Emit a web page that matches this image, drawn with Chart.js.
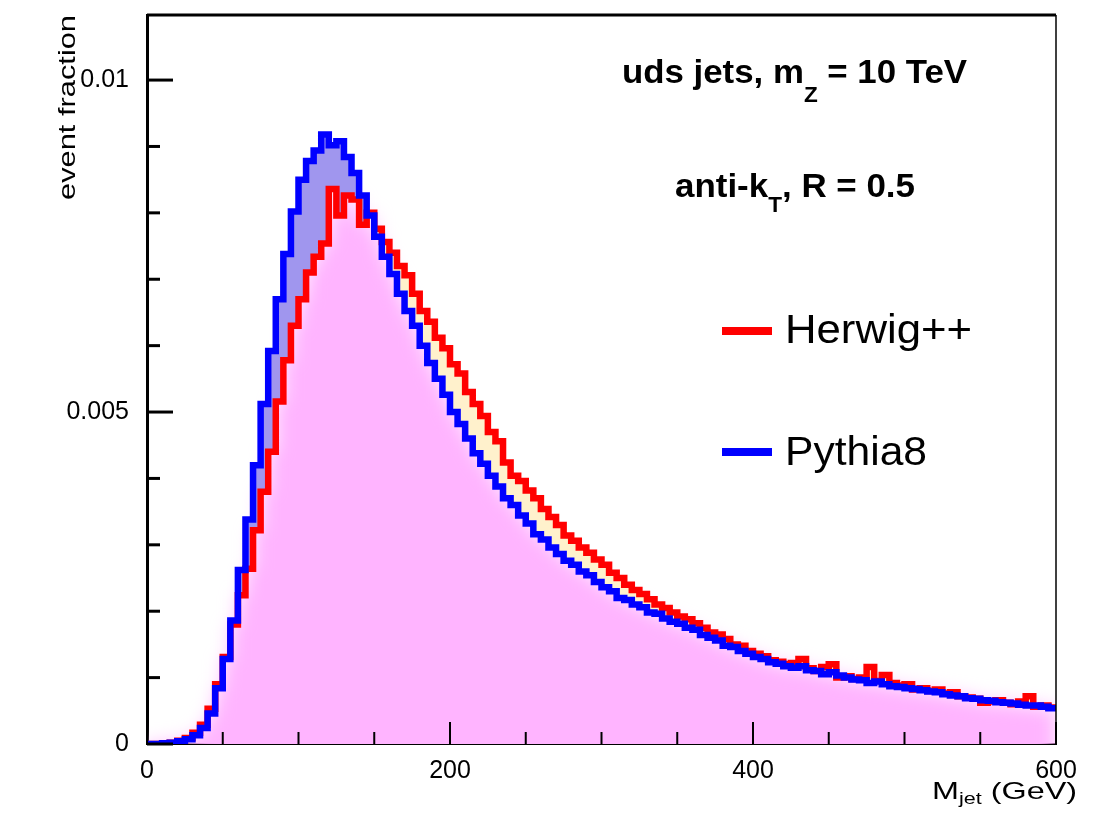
<!DOCTYPE html>
<html>
<head>
<script src="https://cdn.jsdelivr.net/npm/chart.js"></script>
<style>
    body { margin: 0; background: #ffffff; overflow: hidden; }
    .chart-container { width: 1097px; height: 826px; position: relative; }
</style>
</head>
<body>
<div class="chart-container"><canvas id="massChart"></canvas></div>
<script>
// jet mass spectra, 5 GeV bins from 0 to 600 GeV, event fraction per bin
const binWidth = 5;
const binEdges = Array.from({ length: 121 }, (_, i) => i * binWidth);

const herwig = [
    0.00000, 0.00000, 0.00001, 0.00002, 0.00005, 0.00009, 0.00017, 0.00029, 0.00053, 0.00090,
    0.00131, 0.00180, 0.00224, 0.00264, 0.00322, 0.00380, 0.00440, 0.00516, 0.00578, 0.00630,
    0.00670, 0.00710, 0.00734, 0.00754, 0.00836, 0.00796, 0.00826, 0.00820, 0.00782, 0.00800,
    0.00776, 0.00756, 0.00740, 0.00720, 0.00706, 0.00678, 0.00652, 0.00636, 0.00612, 0.00596,
    0.00572, 0.00558, 0.00530, 0.00512, 0.00494, 0.00470, 0.00456, 0.00424, 0.00404, 0.00396,
    0.00382, 0.00370, 0.00354, 0.00342, 0.00330, 0.00314, 0.00306, 0.00296, 0.00288, 0.00278,
    0.00270, 0.00258, 0.00250, 0.00240, 0.00232, 0.00226, 0.00218, 0.00210, 0.00205, 0.00198,
    0.00192, 0.00188, 0.00182, 0.00175, 0.00168, 0.00165, 0.00158, 0.00150, 0.00148, 0.00140,
    0.00136, 0.00132, 0.00126, 0.00124, 0.00120, 0.00122, 0.00128, 0.00114, 0.00110, 0.00116,
    0.00120, 0.00100, 0.00102, 0.00098, 0.00100, 0.00116, 0.00095, 0.00104, 0.00092, 0.00088,
    0.00090, 0.00082, 0.00084, 0.00080, 0.00082, 0.00076, 0.00078, 0.00072, 0.00070, 0.00068,
    0.00062, 0.00064, 0.00066, 0.00062, 0.00060, 0.00064, 0.00072, 0.00056, 0.00058, 0.00055
];

const pythia = [
    0.00000, 0.00000, 0.00001, 0.00002, 0.00004, 0.00007, 0.00013, 0.00024, 0.00046, 0.00084,
    0.00128, 0.00186, 0.00262, 0.00338, 0.00420, 0.00512, 0.00592, 0.00670, 0.00738, 0.00802,
    0.00850, 0.00878, 0.00894, 0.00918, 0.00902, 0.00908, 0.00884, 0.00860, 0.00826, 0.00796,
    0.00764, 0.00734, 0.00708, 0.00678, 0.00652, 0.00630, 0.00600, 0.00574, 0.00550, 0.00526,
    0.00500, 0.00482, 0.00460, 0.00438, 0.00422, 0.00404, 0.00388, 0.00370, 0.00360, 0.00344,
    0.00332, 0.00316, 0.00308, 0.00296, 0.00286, 0.00276, 0.00270, 0.00260, 0.00254, 0.00244,
    0.00236, 0.00230, 0.00220, 0.00217, 0.00210, 0.00206, 0.00198, 0.00196, 0.00189, 0.00184,
    0.00181, 0.00175, 0.00172, 0.00164, 0.00160, 0.00156, 0.00148, 0.00146, 0.00140, 0.00136,
    0.00131, 0.00128, 0.00123, 0.00121, 0.00117, 0.00115, 0.00117, 0.00111, 0.00110, 0.00105,
    0.00108, 0.00103, 0.00100, 0.00097, 0.00096, 0.00092, 0.00094, 0.00090, 0.00087, 0.00086,
    0.00084, 0.00083, 0.00081, 0.00079, 0.00078, 0.00075, 0.00073, 0.00072, 0.00069, 0.00068,
    0.00066, 0.00065, 0.00063, 0.00062, 0.00061, 0.00059, 0.00058, 0.00058, 0.00056, 0.00054
];

const xLabelValues = [0, 200, 400, 600];
const xTickLabels = ['0', '200', '400', '600'];
const yLabelValues = [0, 0.005, 0.01];
const yTickLabels = ['0', '0.005', '0.01'];

// histogram points: each left edge carries its bin content, last edge repeats the last bin
function toSteps(series) {
    return binEdges.map((x, i) => ({ x: x, y: series[Math.min(i, series.length - 1)] }));
}
const lowerEnvelope = herwig.map((v, i) => Math.min(v, pythia[i]));

const FONT = '"Liberation Sans", Arial, sans-serif';

// draws a row of text pieces (for subscripts), squeezed/stretched to a given width
function drawRuns(ctx, runs, x, baseline, width) {
    let total = 0;
    runs.forEach(r => { ctx.font = r.font; r.w = ctx.measureText(r.text).width; total += r.w; });
    const sx = width ? width / total : 1;
    ctx.save();
    ctx.translate(x, baseline);
    ctx.scale(sx, 1);
    ctx.textAlign = 'left';
    ctx.textBaseline = 'alphabetic';
    ctx.fillStyle = '#000';
    let cx = 0;
    runs.forEach(r => { ctx.font = r.font; ctx.fillText(r.text, cx, r.dy || 0); cx += r.w; });
    ctx.restore();
}

const framePlugin = {
    id: 'framePlugin',
    // soft edge on the pink area
    beforeDatasetsDraw(chart) {
        chart.ctx.save();
        chart.ctx.filter = 'blur(9px)';
    },
    afterDatasetDraw(chart, args) {
        if (args.index === 2) chart.ctx.restore();
    },
    afterDraw(chart) {
        const ctx = chart.ctx;
        const a = chart.chartArea;
        const xs = chart.scales.x, ys = chart.scales.y;
        ctx.save();
        ctx.strokeStyle = '#000';
        ctx.lineCap = 'butt';

        // top and right frame
        ctx.lineWidth = 3;
        ctx.beginPath(); ctx.moveTo(a.left, a.top); ctx.lineTo(a.right, a.top); ctx.stroke();
        ctx.lineWidth = 1.5;
        ctx.beginPath(); ctx.moveTo(a.right, a.top); ctx.lineTo(a.right, a.bottom); ctx.stroke();

        // inward tick marks
        ctx.lineWidth = 3;
        ys.ticks.forEach(t => {
            const n = Math.round(t.value * 1000);
            if (Math.abs(t.value * 1000 - n) > 1e-6) return;
            const py = ys.getPixelForValue(t.value);
            const len = n % 5 === 0 ? 26 : 13;
            ctx.beginPath(); ctx.moveTo(a.left, py); ctx.lineTo(a.left + len, py); ctx.stroke();
        });
        ctx.lineWidth = 2;
        xs.ticks.forEach(t => {
            const px = xs.getPixelForValue(t.value);
            const len = t.value % 200 === 0 ? 22 : 12;
            ctx.beginPath(); ctx.moveTo(px, a.bottom); ctx.lineTo(px, a.bottom - len); ctx.stroke();
        });
        ctx.restore();

        // axis titles
        ctx.save();
        ctx.translate(75, 200);
        ctx.rotate(-Math.PI / 2);
        drawRuns(ctx, [{ text: 'event fraction', font: '24px ' + FONT }], 0, 0, 185);
        ctx.restore();

        drawRuns(ctx, [
            { text: 'M', font: '24px ' + FONT },
            { text: 'jet', font: '16px ' + FONT, dy: 5 },
            { text: ' (GeV)', font: '24px ' + FONT }
        ], 932, 799, 145);

        // process / algorithm text
        drawRuns(ctx, [
            { text: 'uds jets, m', font: 'bold 34px ' + FONT },
            { text: 'Z', font: 'bold 22px ' + FONT, dy: 19 },
            { text: ' = 10 TeV', font: 'bold 34px ' + FONT }
        ], 622, 83, 345);
        drawRuns(ctx, [
            { text: 'anti-k', font: 'bold 34px ' + FONT },
            { text: 'T', font: 'bold 22px ' + FONT, dy: 15 },
            { text: ', R = 0.5', font: 'bold 34px ' + FONT }
        ], 675, 197, 240);

        // legend
        ctx.save();
        ctx.lineWidth = 8;
        ctx.strokeStyle = '#ff0000';
        ctx.beginPath(); ctx.moveTo(722, 331); ctx.lineTo(772, 331); ctx.stroke();
        ctx.strokeStyle = '#0000ff';
        ctx.beginPath(); ctx.moveTo(722, 452); ctx.lineTo(772, 452); ctx.stroke();
        ctx.restore();
        drawRuns(ctx, [{ text: 'Herwig++', font: '40px ' + FONT }], 785, 343, 187);
        drawRuns(ctx, [{ text: 'Pythia8', font: '40px ' + FONT }], 785, 465, 142);
    }
};

const ctx = document.getElementById('massChart').getContext('2d');
new Chart(ctx, {
    type: 'line',
    data: {
        datasets: [
            {
                label: 'Pythia8',
                data: toSteps(pythia),
                borderColor: '#0000ff',
                borderWidth: 6.5,
                stepped: true,
                pointRadius: 0,
                fill: false,
                order: 1
            },
            {
                label: 'Herwig++',
                data: toSteps(herwig),
                borderColor: '#ff0000',
                borderWidth: 6.5,
                stepped: true,
                pointRadius: 0,
                fill: { target: '-1', above: '#fff1cc', below: '#a096ee' },
                order: 2
            },
            {
                label: 'envelope',
                data: toSteps(lowerEnvelope),
                borderWidth: 0,
                borderColor: 'rgba(0,0,0,0)',
                backgroundColor: '#ffb4ff',
                stepped: true,
                pointRadius: 0,
                fill: { value: -0.001 },
                order: 3
            }
        ]
    },
    options: {
        responsive: true,
        maintainAspectRatio: false,
        animation: false,
        layout: { padding: { left: 0, top: 15, right: 41, bottom: 0 } },
        plugins: {
            legend: { display: false },
            tooltip: { enabled: false },
            filler: { drawTime: 'beforeDatasetDraw' }
        },
        scales: {
            x: {
                type: 'linear',
                min: 0,
                max: 600,
                afterFit: s => { s.height = 82; s.paddingLeft = 0; s.paddingRight = 0; },
                grid: { display: false, drawTicks: false },
                border: { display: true, color: '#000', width: 2 },
                ticks: {
                    stepSize: 50,
                    autoSkip: false,
                    maxRotation: 0,
                    padding: 12,
                    color: '#000',
                    font: { family: FONT, size: 25 },
                    callback: v => {
                        const k = xLabelValues.indexOf(v);
                        return k >= 0 ? xTickLabels[k] : '';
                    }
                }
            },
            y: {
                min: 0,
                max: 0.01098,
                afterFit: s => { s.width = 147; s.paddingTop = 0; s.paddingBottom = 0; },
                grid: { display: false, drawTicks: false },
                border: { display: true, color: '#000', width: 3 },
                ticks: {
                    stepSize: 0.001,
                    autoSkip: false,
                    padding: 18,
                    color: '#000',
                    font: { family: FONT, size: 25 },
                    callback: v => {
                        const k = yLabelValues.findIndex(w => Math.abs(w - v) < 1e-7);
                        return k >= 0 ? yTickLabels[k] : '';
                    }
                }
            }
        }
    },
    plugins: [framePlugin]
});
</script>
</body>
</html>
